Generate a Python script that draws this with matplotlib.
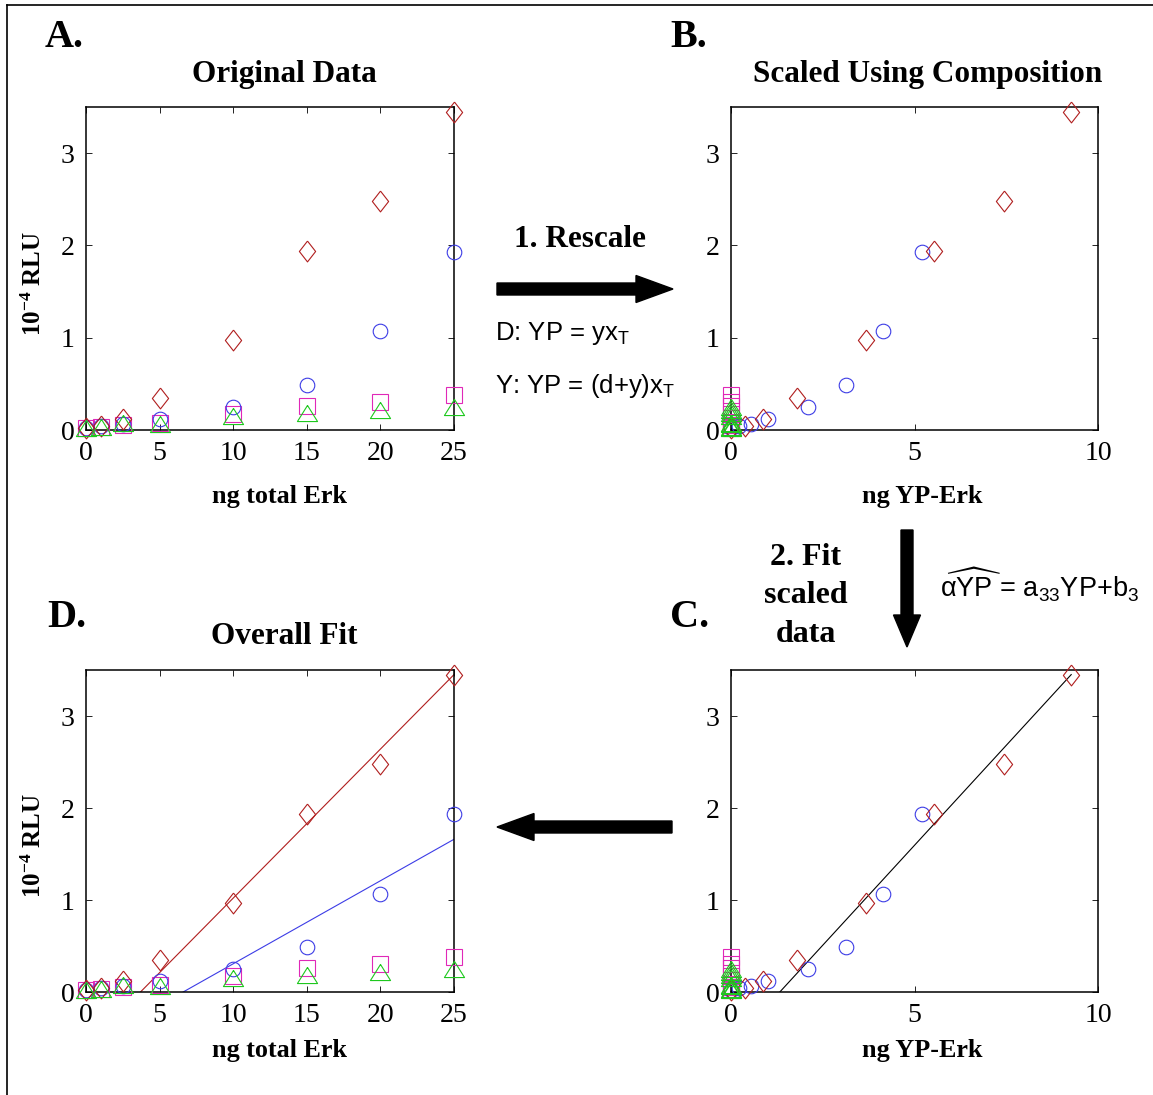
import numpy as np
import matplotlib
matplotlib.use('Agg')
import matplotlib.pyplot as plt
from matplotlib.patches import FancyArrow
from matplotlib.lines import Line2D

plt.rcParams['mathtext.fontset'] = 'custom'
plt.rcParams['mathtext.rm'] = 'Liberation Serif:bold'
plt.rcParams['mathtext.bf'] = 'Liberation Serif:bold'
plt.rcParams['mathtext.sf'] = 'Liberation Sans'
plt.rcParams['mathtext.it'] = 'Liberation Sans'

# ---- data ----
total_erk = [0, 1, 2.5, 5, 10, 15, 20, 25]

rlu_diamond = [0.02, 0.04, 0.12, 0.35, 0.97, 1.94, 2.48, 3.45]
rlu_circle = [0.02, 0.04, 0.07, 0.12, 0.25, 0.49, 1.07, 1.93]
rlu_square = [0.02, 0.03, 0.05, 0.08, 0.17, 0.26, 0.30, 0.38]
rlu_triangle = [0.02, 0.03, 0.08, 0.07, 0.15, 0.18, 0.22, 0.25]

# rescaled x (ng YP-Erk)
yp_diamond = [0.0, 0.38, 0.87, 1.80, 3.68, 5.53, 7.44, 9.27]
yp_circle = [0.0, 0.21, 0.55, 1.02, 2.10, 3.13, 4.14, 5.20]
yp_square = [0.0, 0.0, 0.0, 0.0, 0.0, 0.0, 0.0, 0.0]
yp_triangle = [0.0, 0.0, 0.0, 0.0, 0.0, 0.0, 0.0, 0.0]

# fitted lines (end points)
fit_c_x = [1.33, 9.27]
fit_c_y = [0.0, 3.45]
fit_d_red_x = [3.7, 25]
fit_d_red_y = [0.0, 3.45]
fit_d_blue_x = [6.6, 25]
fit_d_blue_y = [0.0, 1.66]

x_ticks_total = [0, 5, 10, 15, 20, 25]
x_ticks_yp = [0, 5, 10]
y_ticks = [0, 1, 2, 3]

RED = '#B01E1E'
BLUE = '#3C3CE6'
MAGENTA = '#E028B8'
GREEN = '#1EC81E'

diamond = [(0, 1), (0.78, 0), (0, -1), (-0.78, 0), (0, 1)]
triangle = [(0, 0.8), (1, -0.8), (-1, -0.8), (0, 0.8)]

W, H = 1153, 1095
fig = plt.figure(figsize=(W / 100, H / 100), dpi=100)

serif = 'Liberation Serif'
sans = 'Liberation Sans'


def box(px_left, px_top, px_right, px_bottom):
    return [px_left / W, 1 - px_bottom / H, (px_right - px_left) / W, (px_bottom - px_top) / H]


def scatter_all(ax, xd, xc, xs, xt):
    ax.plot(xs, rlu_square, ls='none', marker='s', ms=12, mfc='none', mec=MAGENTA, mew=0.8, clip_on=False, zorder=3)
    ax.plot(xt, rlu_triangle, ls='none', marker=triangle, ms=14.5, mfc='none', mec=GREEN, mew=0.8, clip_on=False, zorder=4)
    ax.plot(xc, rlu_circle, ls='none', marker='o', ms=10.5, mfc='none', mec=BLUE, mew=0.8, clip_on=False, zorder=3)
    ax.plot(xd, rlu_diamond, ls='none', marker=diamond, ms=15, mfc='none', mec=RED, mew=0.8, clip_on=False, zorder=3)


def style(ax, xmax, xticks):
    ax.set_xlim(0, xmax)
    ax.set_ylim(0, 3.5)
    ax.set_xticks(xticks)
    ax.set_yticks(y_ticks)
    ax.tick_params(direction='in', length=4, width=0.6, top=True, right=True,
                   labelsize=20, pad=8)
    for lab in ax.get_xticklabels() + ax.get_yticklabels():
        lab.set_family(serif)
    for sp in ax.spines.values():
        sp.set_linewidth(1.1)


axA = fig.add_axes(box(86, 107, 454, 430))
axB = fig.add_axes(box(731, 107, 1098, 430))
axD = fig.add_axes(box(86, 670, 454, 992))
axC = fig.add_axes(box(731, 670, 1098, 992))

scatter_all(axA, total_erk, total_erk, total_erk, total_erk)
style(axA, 25, x_ticks_total)

scatter_all(axB, yp_diamond, yp_circle, yp_square, yp_triangle)
style(axB, 10, x_ticks_yp)

scatter_all(axD, total_erk, total_erk, total_erk, total_erk)
axD.plot(fit_d_red_x, fit_d_red_y, color=RED, lw=0.8, zorder=2)
axD.plot(fit_d_blue_x, fit_d_blue_y, color=BLUE, lw=0.8, zorder=2)
style(axD, 25, x_ticks_total)

scatter_all(axC, yp_diamond, yp_circle, yp_square, yp_triangle)
axC.plot(fit_c_x, fit_c_y, color='black', lw=0.8, zorder=2)
style(axC, 10, x_ticks_yp)

# ---- overlay in pixel coordinates for labels and arrows ----
ov = fig.add_axes([0, 0, 1, 1], zorder=10)
ov.set_xlim(0, W)
ov.set_ylim(H, 0)
ov.axis('off')
ov.patch.set_visible(False)

bold = dict(family=serif, fontweight='bold')

ov.text(45, 47, 'A.', fontsize=29, ha='left', va='baseline', **bold)
ov.text(670, 47, 'B.', fontsize=29, ha='left', va='baseline', **bold)
ov.text(47, 627, 'D.', fontsize=29, ha='left', va='baseline', **bold)
ov.text(670, 627, 'C.', fontsize=29, ha='left', va='baseline', **bold)

ov.text(284, 82, 'Original Data', fontsize=22.5, ha='center', va='baseline', **bold)
ov.text(928, 82, 'Scaled Using Composition', fontsize=22.5, ha='center', va='baseline', **bold)
ov.text(284, 644, 'Overall Fit', fontsize=22.5, ha='center', va='baseline', **bold)

ov.text(280, 503, 'ng total Erk', fontsize=18.8, ha='center', va='baseline', **bold)
ov.text(922, 503, 'ng YP-Erk', fontsize=18.8, ha='center', va='baseline', **bold)
ov.text(280, 1057, 'ng total Erk', fontsize=18.8, ha='center', va='baseline', **bold)
ov.text(922, 1057, 'ng YP-Erk', fontsize=18.8, ha='center', va='baseline', **bold)

ylab = r'$\mathbf{10^{-4}}$ RLU'
ov.text(34, 283, ylab, fontsize=18, rotation=90, ha='center', va='center', **bold)
ov.text(34, 845, ylab, fontsize=18, rotation=90, ha='center', va='center', **bold)

ov.text(580, 247, '1. Rescale', fontsize=22.5, ha='center', va='baseline', **bold)
ov.text(495, 340, r'D: YP = yx$_\mathsf{T}$', fontsize=18.5, family=sans, ha='left', va='baseline')
ov.text(495, 393, r'Y: YP = (d+y)x$_\mathsf{T}$', fontsize=18.5, family=sans, ha='left', va='baseline')

ov.text(806, 565, '2. Fit', fontsize=23, ha='center', va='baseline', **bold)
ov.text(806, 603, 'scaled', fontsize=23, ha='center', va='baseline', **bold)
ov.text(806, 642, 'data', fontsize=23, ha='center', va='baseline', **bold)
ov.text(940, 598, r'$\widehat{\alpha YP}$ = a$_\mathsf{33}$YP+b$_\mathsf{3}$', fontsize=19.5,
        family=sans, ha='left', va='baseline')

# arrows
ov.add_patch(FancyArrow(497, 289, 176, 0, width=12, head_width=27, head_length=37,
                        length_includes_head=True, color='black'))
ov.add_patch(FancyArrow(907, 530, 0, 117, width=12, head_width=27, head_length=32,
                        length_includes_head=True, color='black'))
ov.add_patch(FancyArrow(672, 827, -175, 0, width=12, head_width=27, head_length=37,
                        length_includes_head=True, color='black'))

# frame lines on top and left
ov.add_line(Line2D([7, W], [5, 5], color='black', lw=1.2))
ov.add_line(Line2D([7, 7], [5, H], color='black', lw=1.2))

fig.savefig('out.png', dpi=100)
